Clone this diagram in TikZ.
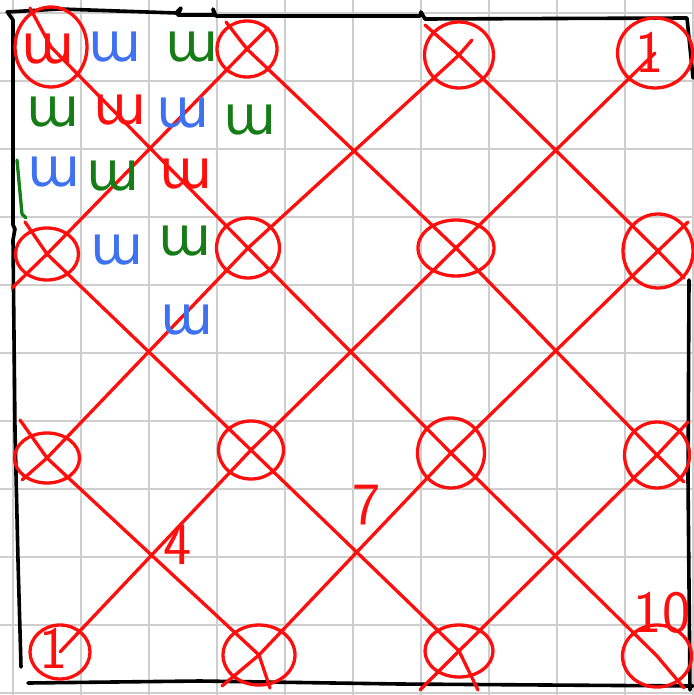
\documentclass[tikz,border=0pt]{standalone}
\usepackage{fontspec}
\usetikzlibrary{shapes.geometric}
\newfontfamily\glyphfont{DejaVu Sans}
\definecolor{penred}{RGB}{255,14,14}
\definecolor{penblue}{RGB}{62,114,240}
\definecolor{pengreen}{RGB}{22,125,22}
\definecolor{gridgray}{RGB}{206,206,206}

\begin{document}
\begin{tikzpicture}[x=1pt, y=-1pt, line cap=round, line join=round,
  spot/.style={draw=penred, line width=3.3pt, ellipse, inner sep=0pt},
  link/.style={draw=penred, line width=3.3pt},
  frame/.style={draw=black, line width=3.6pt},
  squig/.style={inner sep=0pt, font=\glyphfont\fontsize{54}{54}\selectfont},
  num/.style={inner sep=0pt, text=penred, font=\sffamily\fontsize{60}{60}\selectfont}]
\useasboundingbox (0,0) rectangle (693,695);
% squared paper
\foreach \k in {0,...,10} {
  \draw[gridgray, line width=2pt] ({13+68*\k},0) -- ({13+68*\k},695);
  \draw[gridgray, line width=2pt] (0,{13+68*\k}) -- (693,{13+68*\k});
}
% hand drawn frame
\draw[frame] (7,12) -- (60,9) -- (176,13) -- (181,8) -- (178,15) -- (214,15) -- (213,9) -- (216,16) -- (420,16) -- (421,12) -- (425,19) -- (687,18) -- (693,78);
\draw[frame] (8,13) -- (13,20) -- (13,225) -- (15,229) -- (13,240) -- (15,430) -- (18,560) -- (21,667);
\draw[frame] (28,683) -- (200,681) -- (400,684) -- (693,686);
\draw[frame] (689,280) -- (688,480) -- (690,690);
\draw[pengreen, line width=3.3pt] (17,160) -- (22,214) -- (26,218);

% spots
\node[spot, minimum width=72pt, minimum height=80pt] (s00) at (51,47) {};
\node[spot, minimum width=60pt, minimum height=56pt] (s10) at (247,49) {};
\node[spot, minimum width=69pt, minimum height=66pt] (s20) at (459,55) {};
\node[spot, minimum width=75pt, minimum height=70pt] (s30) at (655,53) {};
\node[spot, minimum width=63pt, minimum height=52pt] (s01) at (47,254) {};
\node[spot, minimum width=63pt, minimum height=60pt] (s11) at (248,248) {};
\node[spot, minimum width=76pt, minimum height=56pt] (s21) at (456,248) {};
\node[spot, minimum width=70pt, minimum height=74pt] (s31) at (658,251) {};
\node[spot, minimum width=65pt, minimum height=50pt] (s02) at (47,458) {};
\node[spot, minimum width=65pt, minimum height=58pt] (s12) at (251,450) {};
\node[spot, minimum width=67pt, minimum height=70pt] (s22) at (451,453) {};
\node[spot, minimum width=65pt, minimum height=66pt] (s32) at (657,455) {};
\node[spot, minimum width=60pt, minimum height=54pt] (s03) at (60,652) {};
\node[spot, minimum width=72pt, minimum height=60pt] (s13) at (259,655) {};
\node[spot, minimum width=68pt, minimum height=52pt] (s23) at (459,651) {};
\node[spot, minimum width=69pt, minimum height=62pt] (s33) at (657,656) {};

% free ends of the strokes
\coordinate (a1s) at (12,288);  \coordinate (a1e) at (268,28);
\coordinate (a2s) at (22,480);  \coordinate (a2e) at (472,40);
\coordinate (a4s) at (222,686); \coordinate (a4e) at (688,222);
\coordinate (a5s) at (420,690); \coordinate (a5e) at (688,422);
\coordinate (d0s) at (30,8);    \coordinate (d0e) at (684,688);
\coordinate (d1s) at (226,22);  \coordinate (d1e) at (684,482);
\coordinate (d2s) at (425,25);  \coordinate (d2e) at (684,278);
\coordinate (d3s) at (25,222);  \coordinate (d3e) at (478,690);
\coordinate (d4s) at (20,420);  \coordinate (d4e) at (270,688);

% rising strokes
\draw[link] (a1s) -- (s01.center) -- (s10.center) -- (a1e);
\draw[link] (a2s) -- (s02.center) -- (s11.center) -- (s20.center) -- (a2e);
\draw[link] (s03.center) -- (s12.center) -- (s21.center) -- (s30.center);
\draw[link] (a4s) -- (s13.center) -- (s22.center) -- (s31.center) -- (a4e);
\draw[link] (a5s) -- (s23.center) -- (s32.center) -- (a5e);
% falling strokes
\draw[link] (d0s) -- (s00.center) -- (s11.center) -- (s22.center) -- (s33.center) -- (d0e);
\draw[link] (d1s) -- (s10.center) -- (s21.center) -- (s32.center) -- (d1e);
\draw[link] (d2s) -- (s20.center) -- (s31.center) -- (d2e);
\draw[link] (d3s) -- (s01.center) -- (s12.center) -- (s23.center) -- (d3e);
\draw[link] (d4s) -- (s02.center) -- (s13.center) -- (d4e);

% squiggles
\node[squig, text=penred] (g00) at (48,49) {ɯ};
\node[squig, text=penblue] (g10) at (115,47) {ɯ};
\node[squig, text=pengreen] (g20) at (192,47) {ɯ};
\node[squig, text=pengreen] (g01) at (53,112) {ɯ};
\node[squig, text=penred] (g11) at (120,110) {ɯ};
\node[squig, text=penblue] (g21) at (183,113) {ɯ};
\node[squig, text=pengreen] (g31) at (250,120) {ɯ};
\node[squig, text=penblue] (g02) at (54,172) {ɯ};
\node[squig, text=pengreen] (g12) at (113,176) {ɯ};
\node[squig, text=penred] (g22) at (186,174) {ɯ};
\node[squig, text=penblue] (g13) at (117,250) {ɯ};
\node[squig, text=pengreen] (g23) at (185,241) {ɯ};
\node[squig, text=penblue] (g24) at (187,320) {ɯ};

% numbers
\node[num] (n1a) at (54,648) {1};
\node[num] (n1b) at (650,52) {1};
\node[num] (n4) at (178,545) {4};
\node[num] (n7) at (367,505) {7};
\node[num] (n10) at (662,613) {10};
\end{tikzpicture}
\end{document}
